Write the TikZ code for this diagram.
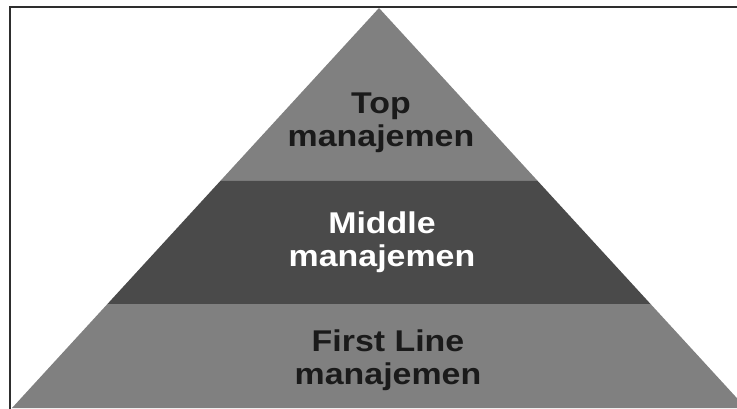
\documentclass[tikz,border=0pt]{standalone}
\usepackage{fontspec}
\newfontfamily\tierfont[FakeStretch=1.13]{Liberation Sans}
\usetikzlibrary{calc}
\definecolor{tierlight}{HTML}{808080}
\definecolor{tierdark}{HTML}{4A4A4A}
\definecolor{framegray}{HTML}{2E2E2E}
\definecolor{textdark}{HTML}{1A1A1A}

\begin{document}
\begin{tikzpicture}[x=1pt,y=-1pt,
  tiertext/.style={font=\tierfont\bfseries\fontsize{30}{33}\selectfont,align=center,inner sep=0pt},
  frameline/.style={draw=framegray,line width=2pt}]
\useasboundingbox (0,0) rectangle (737,409);
\clip (0,0) rectangle (737,409);
\coordinate (apex) at (379,8);
\coordinate (baseL) at (12,408);
\coordinate (baseR) at (746,408);
% tier boundaries on both sides
\coordinate (topL) at ($(apex)!0.4325!(baseL)$);
\coordinate (topR) at ($(apex)!0.4325!(baseR)$);
\coordinate (midL) at ($(apex)!0.74!(baseL)$);
\coordinate (midR) at ($(apex)!0.74!(baseR)$);
\fill[tierlight] (apex) -- (topL) -- (topR) -- cycle;
\fill[tierdark] (topL) -- (midL) -- (midR) -- (topR) -- cycle;
\fill[tierlight] (midL) -- (baseL) -- (baseR) -- (midR) -- cycle;
% frame, top and left only
\draw[frameline] (737,7) -- (10,7) -- (10,409);
\node[tiertext,text=textdark] (top) at (381,123) {Top\\manajemen};
\node[tiertext,text=white] (middle) at (382,242) {Middle\\manajemen};
\node[tiertext,text=textdark] (first) at (388,360) {First Line\\manajemen};
\end{tikzpicture}
\end{document}
